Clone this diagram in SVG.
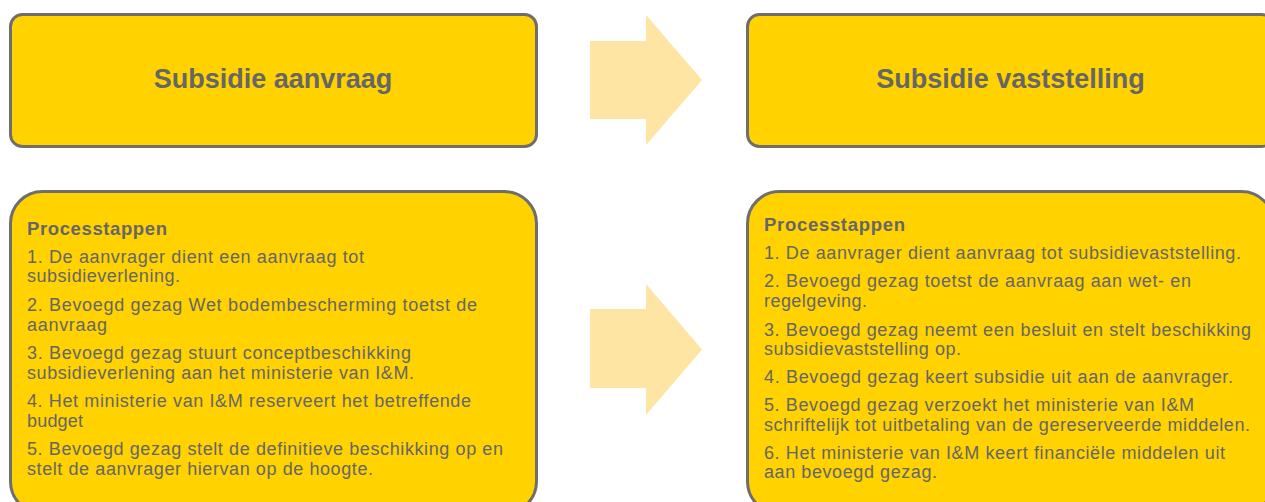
<svg xmlns="http://www.w3.org/2000/svg" width="1265" height="502" viewBox="0 0 1265 502">
  <style>
    .box { fill: #FFD200; stroke: #6E6E6E; stroke-width: 3; }
    .title { font-family: "Liberation Sans", Arial, sans-serif; font-size: 27px; font-weight: bold; fill: #666666; text-anchor: middle; }
    .head { font-family: "Liberation Sans", Arial, sans-serif; font-size: 18.5px; font-weight: bold; fill: #666666; }
    .body { font-family: "Liberation Sans", Arial, sans-serif; font-size: 18px; fill: #666666; }
    .arrow { fill: #FFE5A3; }
  </style>
  <rect width="1265" height="502" fill="#FFFFFF"/>

  <g id="connectors">
    <polygon class="arrow" points="590,41 646,41 646,15 702,80 646,145 646,119 590,119"/>
    <polygon class="arrow" points="590,309 646,309 646,284 702,349.5 646,415 646,388 590,388"/>
  </g>

  <g id="node-aanvraag">
    <rect class="box" x="10.5" y="14.5" width="526" height="132" rx="12" ry="12"/>
    <text class="title" x="273" y="88">Subsidie aanvraag</text>
  </g>

  <g id="node-vaststelling">
    <rect class="box" x="747.5" y="14.5" width="526" height="132" rx="12" ry="12"/>
    <text class="title" x="1010.5" y="88">Subsidie vaststelling</text>
  </g>

  <g id="node-stappen-aanvraag">
    <rect class="box" x="10.5" y="191.5" width="526" height="322" rx="32" ry="32"/>
    <text class="head" x="27" y="235" textLength="140" lengthAdjust="spacing">Processtappen</text>
    <text class="body" x="27" y="262.5" textLength="337" lengthAdjust="spacing">1. De aanvrager dient een aanvraag tot</text>
    <text class="body" x="27" y="282" textLength="153" lengthAdjust="spacing">subsidieverlening.</text>
    <text class="body" x="27" y="311" textLength="450" lengthAdjust="spacing">2. Bevoegd gezag Wet bodembescherming toetst de</text>
    <text class="body" x="27" y="330.5" textLength="80" lengthAdjust="spacing">aanvraag</text>
    <text class="body" x="27" y="359" textLength="384" lengthAdjust="spacing">3. Bevoegd gezag stuurt conceptbeschikking</text>
    <text class="body" x="27" y="378.5" textLength="387" lengthAdjust="spacing">subsidieverlening aan het ministerie van I&amp;M.</text>
    <text class="body" x="27" y="407" textLength="444" lengthAdjust="spacing">4. Het ministerie van I&amp;M reserveert het betreffende</text>
    <text class="body" x="27" y="426.5" textLength="56" lengthAdjust="spacing">budget</text>
    <text class="body" x="27" y="455" textLength="476" lengthAdjust="spacing">5. Bevoegd gezag stelt de definitieve beschikking op en</text>
    <text class="body" x="27" y="474.5" textLength="346" lengthAdjust="spacing">stelt de aanvrager hiervan op de hoogte.</text>
  </g>

  <g id="node-stappen-vaststelling">
    <rect class="box" x="747.5" y="191.5" width="526" height="322" rx="32" ry="32"/>
    <text class="head" x="764" y="231" textLength="141" lengthAdjust="spacing">Processtappen</text>
    <text class="body" x="764" y="259" textLength="477" lengthAdjust="spacing">1. De aanvrager dient aanvraag tot subsidievaststelling.</text>
    <text class="body" x="764" y="287" textLength="427" lengthAdjust="spacing">2. Bevoegd gezag toetst de aanvraag aan wet- en</text>
    <text class="body" x="764" y="306.5" textLength="103" lengthAdjust="spacing">regelgeving.</text>
    <text class="body" x="764" y="335.5" textLength="487" lengthAdjust="spacing">3. Bevoegd gezag neemt een besluit en stelt beschikking</text>
    <text class="body" x="764" y="355" textLength="197" lengthAdjust="spacing">subsidievaststelling op.</text>
    <text class="body" x="764" y="383" textLength="469" lengthAdjust="spacing">4. Bevoegd gezag keert subsidie uit aan de aanvrager.</text>
    <text class="body" x="764" y="411" textLength="430" lengthAdjust="spacing">5. Bevoegd gezag verzoekt het ministerie van I&amp;M</text>
    <text class="body" x="764" y="430.5" textLength="486" lengthAdjust="spacing">schriftelijk tot uitbetaling van de gereserveerde middelen.</text>
    <text class="body" x="764" y="459" textLength="461" lengthAdjust="spacing">6. Het ministerie van I&amp;M keert financiële middelen uit</text>
    <text class="body" x="764" y="478" textLength="173" lengthAdjust="spacing">aan bevoegd gezag.</text>
  </g>
</svg>
